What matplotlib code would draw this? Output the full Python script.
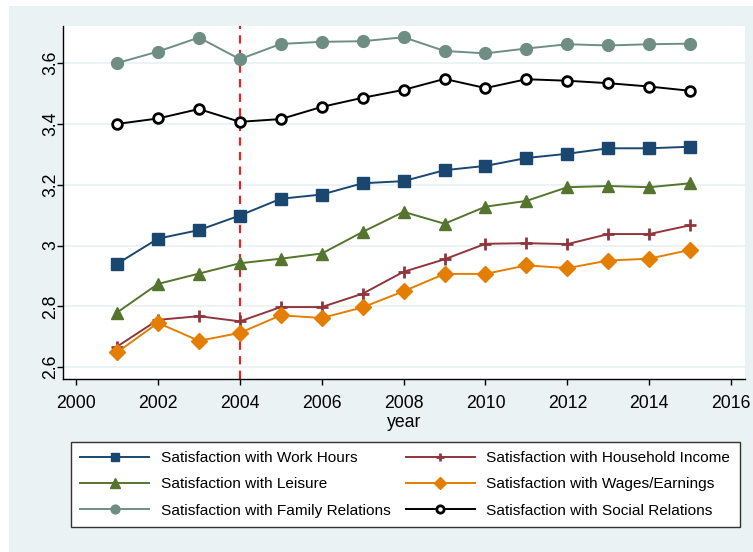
import matplotlib.pyplot as plt
from matplotlib.patches import Rectangle

# yearly mean satisfaction scores
years = list(range(2001, 2016))

work_hours = [2.940, 3.023, 3.051, 3.099, 3.154, 3.168, 3.205, 3.212, 3.248, 3.262,
              3.288, 3.302, 3.320, 3.320, 3.325]
household_income = [2.668, 2.756, 2.768, 2.751, 2.798, 2.798, 2.842, 2.914, 2.955, 3.006,
                    3.008, 3.005, 3.038, 3.038, 3.067]
leisure = [2.780, 2.874, 2.908, 2.942, 2.957, 2.974, 3.045, 3.111, 3.072, 3.128,
           3.147, 3.192, 3.196, 3.192, 3.205]
wages = [2.649, 2.746, 2.687, 2.713, 2.771, 2.762, 2.797, 2.850, 2.907, 2.907,
         2.935, 2.926, 2.951, 2.957, 2.986]
family = [3.600, 3.638, 3.684, 3.613, 3.663, 3.670, 3.672, 3.685, 3.640, 3.632,
          3.648, 3.662, 3.658, 3.662, 3.664]
social = [3.400, 3.418, 3.449, 3.407, 3.416, 3.456, 3.486, 3.512, 3.548, 3.518,
          3.547, 3.542, 3.534, 3.523, 3.509]

xticks = [2000, 2002, 2004, 2006, 2008, 2010, 2012, 2014, 2016]
yticks = [2.6, 2.8, 3.0, 3.2, 3.4, 3.6]
ylabels = ["2.6", "2.8", "3", "3.2", "3.4", "3.6"]
policy_year = 2004

plt.rcParams['font.family'] = ['Liberation Sans', 'DejaVu Sans']

bg = '#eaf2f3'
fig = plt.figure(figsize=(7.53, 5.52), dpi=100, facecolor=bg)
# white margins on the top and left edges
fig.patches.append(Rectangle((0, 1 - 6 / 552), 1, 6 / 552, transform=fig.transFigure,
                             facecolor='white', edgecolor='none', zorder=0))
fig.patches.append(Rectangle((0, 0), 9 / 753, 1, transform=fig.transFigure,
                             facecolor='white', edgecolor='none', zorder=0))

ax = fig.add_axes([63 / 753, 1 - 379 / 552, (745 - 63) / 753, (379 - 26) / 552])
ax.set_facecolor('white')

ax.axvline(policy_year, color='#ff1a1a', lw=1.5, ls=(0, (4, 3)), zorder=1)

ax.plot(years, work_hours, color='#1a476f', lw=1.4, marker='s', ms=8.5,
        label='Satisfaction with Work Hours', zorder=3)
ax.plot(years, leisure, color='#55752f', lw=1.4, marker='^', ms=9,
        label='Satisfaction with Leisure', zorder=3)
ax.plot(years, family, color='#6e8e84', lw=1.4, marker='o', ms=8.5,
        label='Satisfaction with Family Relations', zorder=3)
ax.plot(years, household_income, color='#90353b', lw=1.4, marker='+', ms=8, mew=2,
        label='Satisfaction with Household Income', zorder=3)
ax.plot(years, wages, color='#e37e00', lw=1.4, marker='D', ms=8.5,
        label='Satisfaction with Wages/Earnings', zorder=3)
ax.plot(years, social, color='black', lw=1.4, marker='o', ms=7, mfc='white', mew=2,
        label='Satisfaction with Social Relations', zorder=3)

ax.set_xlim(1999.68, 2016.34)
ax.set_ylim(2.5615, 3.722)
ax.set_xticks(xticks)
ax.set_yticks(yticks)
ax.set_yticklabels(ylabels, rotation=90, va='center')
ax.tick_params(axis='both', labelsize=12.7, length=4.5, width=1, colors='black')
ax.tick_params(axis='y', pad=-2)
ax.tick_params(axis='x', pad=7)
ax.grid(axis='y', color=bg, lw=1.3)
ax.set_axisbelow(True)
for side in ['top', 'right']:
    ax.spines[side].set_visible(False)
for side in ['left', 'bottom']:
    ax.spines[side].set_linewidth(1)
ax.set_xlabel('year', fontsize=12.7, labelpad=1.5)

leg = fig.legend(loc='upper left', bbox_to_anchor=(71 / 753, 1 - 442 / 552), ncol=2,
                 fontsize=11.05, frameon=True, fancybox=False, edgecolor='#333333',
                 facecolor='white', framealpha=1, handlelength=4.5, handletextpad=0.75,
                 columnspacing=1.0, labelspacing=0.8, borderpad=0.6, borderaxespad=0,
                 markerscale=0.75)
leg.get_frame().set_linewidth(1)

fig.savefig('out.png', dpi=100, facecolor=bg)
